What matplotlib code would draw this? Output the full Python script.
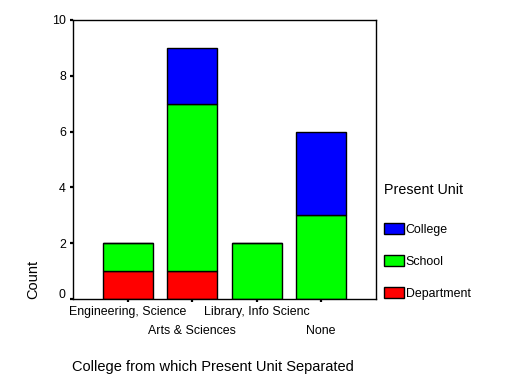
import matplotlib
matplotlib.use("Agg")
import matplotlib.pyplot as plt
import matplotlib.transforms as mtransforms
import numpy as np

plt.rcParams['font.family'] = ['Liberation Sans', 'DejaVu Sans']

# data
categories = ["Engineering, Science", "Arts & Sciences", "Library, Info Scienc", "None"]
department = [1, 1, 0, 0]
school = [1, 6, 2, 3]
college = [0, 2, 0, 3]
yticks = [0, 2, 4, 6, 8, 10]

fig = plt.figure(figsize=(5.11, 3.85), dpi=100)
ax = fig.add_axes([73/511, 1 - 299/385, (376-73)/511, (299-20)/385])

x = np.arange(len(categories))
w = 0.77
dep = np.array(department)
sch = np.array(school)
col = np.array(college)

b1 = ax.bar(x, dep, w, color='#ff0000', edgecolor='black', linewidth=1)
b2 = ax.bar(x, sch, w, bottom=dep, color='#00ff00', edgecolor='black', linewidth=1)
b3 = ax.bar(x, col, w, bottom=dep + sch, color='#0000ff', edgecolor='black', linewidth=1)

ax.set_xlim(-0.85, 3.85)
ax.set_ylim(0, 10)
ax.set_yticks(yticks)
ax.set_xticks(x)
ax.set_xticklabels(categories)
ax.tick_params(axis='both', direction='out', length=2.2, width=1.6, labelsize=8.9, color='black')
ax.tick_params(axis='x', pad=2.5)
ax.tick_params(axis='y', pad=3)
for s in ax.spines.values():
    s.set_linewidth(1)

# alternate x labels on two rows
for i, lab in enumerate(ax.get_xticklabels()):
    if i % 2 == 1:
        lab.set_transform(lab.get_transform() +
                          mtransforms.ScaledTranslation(0, -0.19, fig.dpi_scale_trans))
# the 0 label sits a bit above its tick
ylabs = ax.get_yticklabels()
ylabs[0].set_transform(ylabs[0].get_transform() +
                       mtransforms.ScaledTranslation(0, 0.06, fig.dpi_scale_trans))

fig.text(213/511, 1 - 367/385, "College from which Present Unit Separated",
         ha='center', va='center', fontsize=10.5)
fig.text(33/511, 1 - 279/385, "Count", rotation=90, ha='center', va='center', fontsize=10.5)

leg = fig.legend([b3, b2, b1], ["College", "School", "Department"],
                 title="Present Unit", loc='upper left',
                 bbox_to_anchor=(384/511, 1 - 183/385), frameon=False,
                 fontsize=8.9, title_fontsize=10.3, alignment='left',
                 handlelength=1.6, handleheight=1.0, handletextpad=0.15,
                 labelspacing=1.55, borderpad=0, borderaxespad=0)
leg._legend_box.sep = 19

fig.savefig("out.png", dpi=100)
